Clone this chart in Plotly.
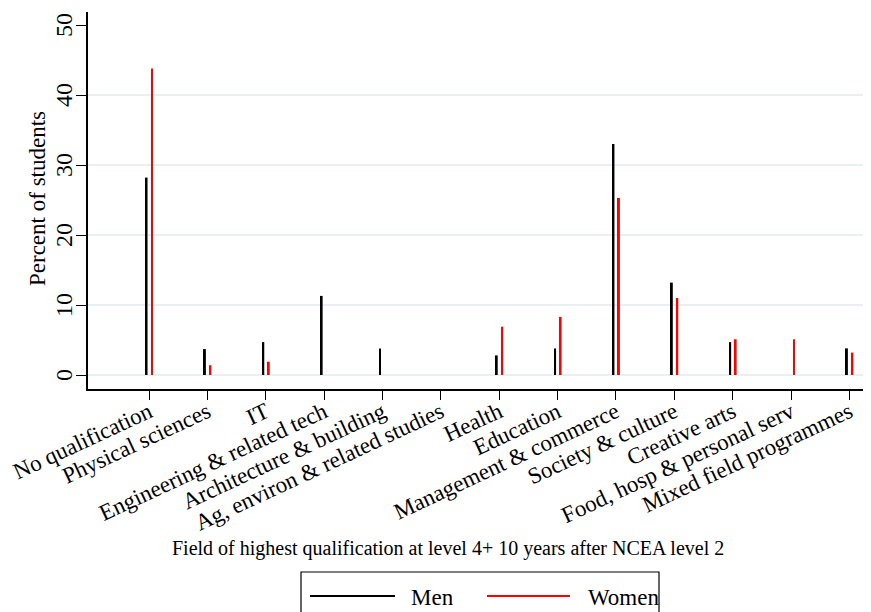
import plotly.graph_objects as go

fields = ["No qualification", "Physical sciences", "IT", "Engineering & related tech",
          "Architecture & building", "Ag, environ & related studies", "Health", "Education",
          "Management & commerce", "Society & culture", "Creative arts",
          "Food, hosp & personal serv", "Mixed field programmes"]
men = [28.2, 3.7, 4.7, 11.3, 3.8, 0, 2.8, 3.8, 33.0, 13.2, 4.7, 0, 3.8]
women = [43.8, 1.4, 1.9, 0, 0, 0, 6.9, 8.3, 25.3, 11.0, 5.1, 5.1, 3.2]
yticks = [0, 10, 20, 30, 40, 50]

font = "Liberation Serif, Times New Roman, serif"
W, H = 871, 612
OFF = 8  # page body margin shifts the figure by 8px
L, R, T, B = 88 - OFF, OFF, 12 - OFF, 612 - (389 - OFF)


def px(x):
    return (x - OFF - L) / (W - L - R)


def py(y):
    return (H - B - (y - OFF)) / (H - T - B)


fig = go.Figure()
# invisible trace to activate the grid axis
fig.add_trace(go.Scatter(x=[fields[0]], y=[0], yaxis="y2", mode="markers",
                         marker_opacity=0, showlegend=False, hoverinfo="skip"))
fig.add_trace(go.Bar(x=fields, y=men, name="Men", marker_color="black",
                     marker_line_width=0, width=0.034, offset=-0.06, showlegend=False))
fig.add_trace(go.Bar(x=fields, y=women, name="Women", marker_color="#ff0000",
                     marker_line_width=0, width=0.034, offset=0.034, showlegend=False))

fig.update_layout(
    width=W, height=H,
    margin=dict(l=L, r=R, t=T, b=B),
    plot_bgcolor="white", paper_bgcolor="white",
    font=dict(family=font, size=20, color="black"),
    barmode="overlay",
    showlegend=False,
    xaxis=dict(range=[-1.046, 12.37], showline=True, linecolor="black", linewidth=1.5,
               ticks="outside", ticklen=9, tickcolor="black", tickangle=-25,
               showgrid=False, tickfont=dict(size=23), automargin=False,
               ticklabelstandoff=-10),
    yaxis=dict(range=[-2, 51.86], tickvals=yticks, showline=True,
               linecolor="black", linewidth=1.5, ticks="outside", ticklen=10,
               tickcolor="black", showticklabels=False, showgrid=False, zeroline=False,
               automargin=False),
    yaxis2=dict(range=[-2, 51.86], overlaying="y", tickvals=yticks[:-1],
                showgrid=True, gridcolor="#eaf0f2", gridwidth=1.5, showticklabels=False,
                zeroline=False, showline=False),
)

# vertical y tick labels, Stata style
for v in yticks:
    fig.add_annotation(text=str(v), xref="paper", yref="y", x=px(64), y=v,
                       xanchor="center", yanchor="middle", textangle=-90,
                       showarrow=False, font=dict(size=24))

# axis titles
fig.add_annotation(text="Field of highest qualification at level 4+ 10 years after NCEA level 2",
                   xref="paper", yref="paper", x=px(448), y=py(548), xanchor="center",
                   yanchor="middle", showarrow=False, font=dict(size=20))
fig.add_annotation(text="Percent of students", xref="paper", yref="paper",
                   x=px(37), y=py(199), xanchor="center", yanchor="middle",
                   textangle=-90, showarrow=False, font=dict(size=23))

# legend box drawn like the Stata one
fig.add_shape(type="rect", xref="paper", yref="paper",
              x0=px(301), x1=px(659), y0=py(625), y1=py(572),
              line=dict(color="black", width=1.2), fillcolor="white")
fig.add_shape(type="line", xref="paper", yref="paper",
              x0=px(310), x1=px(395), y0=py(596), y1=py(596),
              line=dict(color="black", width=2))
fig.add_shape(type="line", xref="paper", yref="paper",
              x0=px(487), x1=px(570), y0=py(596), y1=py(596),
              line=dict(color="#ff0000", width=2))
fig.add_annotation(text="Men", xref="paper", yref="paper", x=px(409), y=py(597),
                   xanchor="left", yanchor="middle", showarrow=False, font=dict(size=23))
fig.add_annotation(text="Women", xref="paper", yref="paper", x=px(586), y=py(597),
                   xanchor="left", yanchor="middle", showarrow=False, font=dict(size=23))

fig.write_html("out.html")
